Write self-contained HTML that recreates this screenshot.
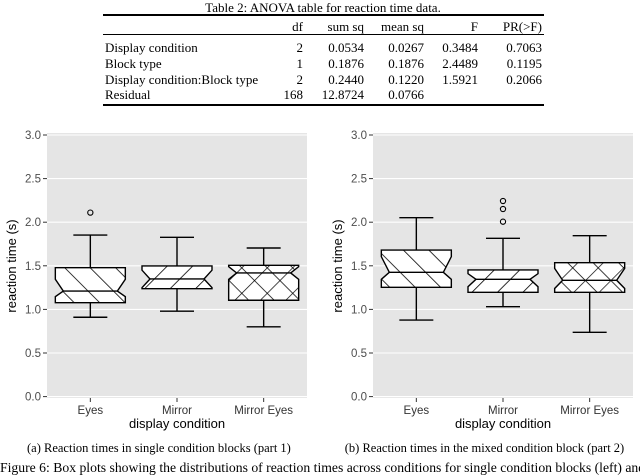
<!DOCTYPE html>
<html><head><meta charset="utf-8"><style>
body{margin:0;width:640px;height:475px;overflow:hidden;background:#fff;position:relative;font-family:"Liberation Serif",serif;}
.t{position:absolute;white-space:nowrap;font-size:13px;color:#000;line-height:1;}
.r{text-align:right;}
.rule{position:absolute;left:103px;width:441px;background:#000;}
</style></head><body>
<div class="t" style="left:0;width:646px;text-align:center;top:1px;">Table 2: ANOVA table for reaction time data.</div>
<div class="rule" style="top:14px;height:1.5px"></div>
<div class="rule" style="top:34px;height:1px"></div>
<div class="rule" style="top:104px;height:1.5px"></div>
<div id="tbl"></div>
<svg id="chart" width="640" height="475" style="position:absolute;left:0;top:0">
<defs>
<pattern id="pBack" patternUnits="userSpaceOnUse" width="18" height="18" patternTransform="rotate(-45)"><line x1="0" y1="0" x2="0" y2="18" stroke="#000" stroke-width="1.6"/></pattern>
<pattern id="pFwd" patternUnits="userSpaceOnUse" width="18" height="18" patternTransform="rotate(45)"><line x1="0" y1="0" x2="0" y2="18" stroke="#000" stroke-width="1.6"/></pattern>
<pattern id="pCross" patternUnits="userSpaceOnUse" width="18" height="18" patternTransform="rotate(45)"><line x1="0" y1="0" x2="0" y2="18" stroke="#000" stroke-width="1.4"/><line x1="0" y1="0" x2="18" y2="0" stroke="#000" stroke-width="1.4"/></pattern>
</defs>
</svg>
<div class="t" style="left:27px;width:260px;text-align:center;top:442px;font-size:12.5px">(a) Reaction times in single condition blocks (part 1)</div>
<div class="t" style="left:336px;width:297px;text-align:center;top:442px;font-size:12.5px">(b) Reaction times in the mixed condition block (part 2)</div>
<div class="t" style="left:0;top:461px;font-size:13.7px;width:640px;overflow:hidden">Figure 6: Box plots showing the distributions of reaction times across conditions for single condition blocks (left) and</div>
<script>
const tblRows=[["Display condition","2","0.0534","0.0267","0.3484","0.7063"],["Block type","1","0.1876","0.1876","2.4489","0.1195"],["Display condition:Block type","2","0.2440","0.1220","1.5921","0.2066"],["Residual","168","12.8724","0.0766","",""]];
const tblHead=["","df","sum sq","mean sq","F","PR(>F)"];
const colRight=[0,303,364,424,478,542];
const rowTop=[20,41,57,73,88];
const tbl=document.getElementById('tbl');
[tblHead].concat(tblRows).forEach((row,ri)=>{row.forEach((c,ci)=>{if(!c)return;const d=document.createElement('div');d.className='t';


d.textContent=c;d.style.top=rowTop[ri]+'px';
if(ci===0){d.style.left='105px';}else{d.style.right=(640-colRight[ci])+'px';}
tbl.appendChild(d);});});

const categories=["Eyes","Mirror","Mirror Eyes"];
const yTicks=[0,0.5,1,1.5,2,2.5,3];
const yTickLabels=["0.0","0.5","1.0","1.5","2.0","2.5","3.0"];
// panel a
const aLow=[0.91,0.98,0.80], aQ1=[1.077,1.238,1.105], aMed=[1.21,1.349,1.418], aQ3=[1.478,1.498,1.506], aHigh=[1.853,1.827,1.704];
const aNotchLo=[1.146,1.25,1.345], aNotchHi=[1.345,1.45,1.49];
const aOutliers=[[2.11],[],[]];
// panel b
const bLow=[0.878,1.031,0.737], bQ1=[1.253,1.196,1.196], bMed=[1.425,1.345,1.334], bQ3=[1.681,1.452,1.536], bHigh=[2.052,1.815,1.845];
const bNotchLo=[1.345,1.26,1.24], bNotchHi=[1.605,1.41,1.47];
const bOutliers=[[],[2.006,2.151,2.243],[]];
const pats=["url(#pBack)","url(#pFwd)","url(#pCross)"];

const svg=document.getElementById('chart');
const NS="http://www.w3.org/2000/svg";
function el(tag,attrs,parent){const e=document.createElementNS(NS,tag);for(const k in attrs)e.setAttribute(k,attrs[k]);(parent||svg).appendChild(e);return e;}
function panel(x0,lo,q1,med,q3,hi,nlo,nhi,outs,name){
  const x1=x0+260, top=133, y=v=>396.6-v*87.2;
  const xs=i=>x0+260*(i+0.5)/3;
  const g=el('g',{});
  
  
  const bg=el('rect',{x:x0,y:top,width:260,height:398-top,fill:'#e5e5e5'},g);
  
  
  yTicks.forEach((t,i)=>{
    const gl=el('line',{x1:x0,x2:x1,y1:y(t),y2:y(t),stroke:'#fff','stroke-width':1.1},g);
    
    
    el('line',{x1:x0-4,x2:x0,y1:y(t),y2:y(t),stroke:'#333'},g);
    const tx=el('text',{x:x0-6,y:y(t)+4,'text-anchor':'end','font-size':11.5,fill:'#4d4d4d','font-family':'Liberation Sans, sans-serif'},g);
    tx.textContent=yTickLabels[i];
    
    
  });
  categories.forEach((c,i)=>{
    const cx=xs(i);
    el('line',{x1:cx,x2:cx,y1:398,y2:402,stroke:'#333'},g);
    const tx=el('text',{x:cx,y:414,'text-anchor':'middle','font-size':11.5,fill:'#333','font-family':'Liberation Sans, sans-serif'},g);
    tx.textContent=c;
    
    
    const w=35, n=8, st={stroke:'#000','stroke-width':1.4,fill:'none'};
    const wl=el('line',Object.assign({x1:cx,x2:cx,y1:y(hi[i]),y2:y(q3[i])},st),g);
    
    
    el('line',Object.assign({x1:cx-17,x2:cx+17,y1:y(hi[i]),y2:y(hi[i])},st),g);
    const wl2=el('line',Object.assign({x1:cx,x2:cx,y1:y(lo[i]),y2:y(q1[i])},st),g);
    
    
    el('line',Object.assign({x1:cx-17,x2:cx+17,y1:y(lo[i]),y2:y(lo[i])},st),g);
    const pts=[[cx-w,y(q3[i])],[cx+w,y(q3[i])],[cx+w,y(nhi[i])],[cx+w-n,y(med[i])],[cx+w,y(nlo[i])],[cx+w,y(q1[i])],[cx-w,y(q1[i])],[cx-w,y(nlo[i])],[cx-w+n,y(med[i])],[cx-w,y(nhi[i])]].map(p=>p.join(',')).join(' ');
    el('polygon',{points:pts,fill:'#fff'},g);
    const h=el('polygon',{points:pts,fill:pats[i]},g);
    
    
    const b=el('polygon',{points:pts,fill:'none',stroke:'#000','stroke-width':1.4},g);
    
    
    const m=el('line',{x1:cx-w+n,x2:cx+w-n,y1:y(med[i]),y2:y(med[i]),stroke:'#000','stroke-width':1.4},g);
    
    
    outs[i].forEach(o=>{
      const ci=el('circle',{cx:cx,cy:y(o),r:2.6,fill:'none',stroke:'#000','stroke-width':1.1},g);
      
      
    });
  });
  const xt=el('text',{x:(x0+x1)/2,y:428,'text-anchor':'middle','font-size':13,fill:'#000','font-family':'Liberation Sans, sans-serif'},g);
  xt.textContent='display condition';
  
  
  const yt=el('text',{x:0,y:0,'text-anchor':'middle','font-size':13,fill:'#000','font-family':'Liberation Sans, sans-serif',transform:'translate('+(x0-31)+',266) rotate(-90)'},g);
  yt.textContent='reaction time (s)';
  
  
}
panel(47,aLow,aQ1,aMed,aQ3,aHigh,aNotchLo,aNotchHi,aOutliers,'panel-a');
panel(373,bLow,bQ1,bMed,bQ3,bHigh,bNotchLo,bNotchHi,bOutliers,'panel-b');
</script>
</body></html>
